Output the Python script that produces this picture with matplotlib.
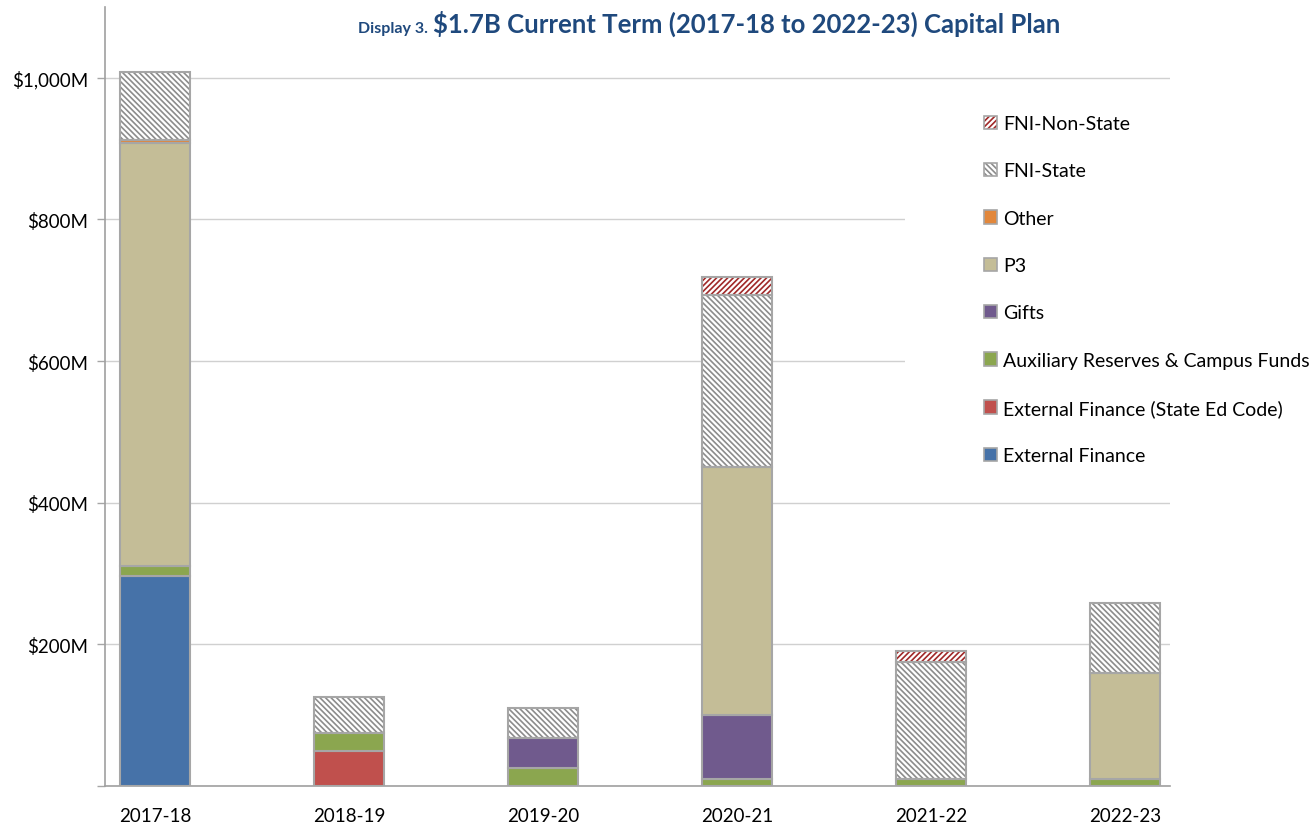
import matplotlib as mp
mp.use('Agg')
import matplotlib.pyplot as plt
from matplotlib.patches import Patch, Rectangle
from matplotlib.ticker import FuncFormatter

# values in $M
years = ['2017-18', '2018-19', '2019-20', '2020-21', '2021-22', '2022-23']
ext_fin = [296, 0, 0, 0, 0, 0]
ext_fin_ed = [0, 49, 0, 0, 0, 0]
aux_funds = [14, 26, 25, 10, 10, 10]
gifts = [0, 0, 43, 90, 0, 0]
p3 = [598, 0, 0, 351, 0, 149]
other = [4, 0, 0, 0, 0, 0]
fni_state = [96, 50, 42, 243, 165, 99]
fni_nonstate = [0, 0, 0, 25, 15, 0]

series = [
    ('External Finance', ext_fin, '#4672A8', None),
    ('External Finance (State Ed Code)', ext_fin_ed, '#C0504D', None),
    ('Auxiliary Reserves & Campus Funds', aux_funds, '#8BA64F', None),
    ('Gifts', gifts, '#705A8D', None),
    ('P3', p3, '#C4BD97', None),
    ('Other', other, '#E2873B', None),
    ('FNI-State', fni_state, '#8C8C8C', '\\' * 6),
    ('FNI-Non-State', fni_nonstate, '#A02828', '/' * 6),
]

plt.rcParams['font.family'] = ['Lato', 'DejaVu Sans']
plt.rcParams['hatch.linewidth'] = 1.2
edge = '#A6A6A6'

fig = plt.figure(figsize=(13.16, 8.28), dpi=100)
ax = fig.add_axes([105 / 1316, 1 - 787 / 828, (1170 - 105) / 1316, (787 - 8) / 828])

x = list(range(len(years)))
w = 0.36
bottom = [0] * len(years)
handles = []
for name, vals, col, hatch in series:
    xs = [x[i] for i in range(len(vals)) if vals[i] > 0]
    hs = [v for v in vals if v > 0]
    bs = [bottom[i] for i in range(len(vals)) if vals[i] > 0]
    if hatch:
        ax.bar(xs, hs, w, bottom=bs, color='white', edgecolor=col, hatch=hatch, linewidth=0, zorder=2)
        ax.bar(xs, hs, w, bottom=bs, fill=False, edgecolor=edge, linewidth=1.5, zorder=3)
        handles.append((Patch(facecolor='white', edgecolor=col, hatch=hatch, linewidth=0),
                        Patch(fill=False, edgecolor=edge, linewidth=1.2)))
    else:
        ax.bar(xs, hs, w, bottom=bs, color=col, edgecolor=edge, linewidth=1.5, zorder=3)
        handles.append(Patch(facecolor=col, edgecolor=edge, linewidth=1.2))
    bottom = [bottom[i] + vals[i] for i in range(len(vals))]

ax.set_xlim(-0.258, 5.232)
ax.set_ylim(0, 1100)
ax.set_xticks(x)
ax.set_xticklabels(years)
ax.set_yticks([0, 200, 400, 600, 800, 1000])
ax.yaxis.set_major_formatter(FuncFormatter(lambda v, p: '' if v == 0 else '${:,.0f}M'.format(v)))
ax.tick_params(axis='x', length=0, pad=15, labelsize=13.5)
ax.tick_params(axis='y', length=6, width=1, color='#A6A6A6', pad=6, labelsize=13.5)
ax.grid(axis='y', color='#D0D0D0', linewidth=1, zorder=0)
ax.set_axisbelow(True)
for s in ['top', 'right']:
    ax.spines[s].set_visible(False)
for s in ['left', 'bottom']:
    ax.spines[s].set_color('#A0A0A0')
    ax.spines[s].set_linewidth(1.2)

# white block behind the legend, hides the grid there
fig.patches.append(Rectangle((905 / 1316, 1 - 485 / 828), 411 / 1316, 385 / 828,
                             transform=fig.transFigure, facecolor='white', edgecolor='none', zorder=1))

names = [s[0] for s in series]
fig.legend(handles[::-1], names[::-1], loc='upper left', bbox_to_anchor=(984 / 1316, 1 - 116 / 828),
           frameon=False, fontsize=14, borderpad=0, borderaxespad=0, labelspacing=1.56,
           handlelength=0.68, handleheight=0.68, handletextpad=0.3)

tc = '#1F497D'
fig.text(428 / 1316, 1 - 33 / 828, 'Display 3.', ha='right', va='baseline', fontsize=11.5,
         fontweight='bold', color=tc)
fig.text(433 / 1316, 1 - 33 / 828, '$1.7B Current Term (2017-18 to 2022-23) Capital Plan', ha='left',
         va='baseline', fontsize=18.5, fontweight='bold', color=tc)

plt.savefig('out.png', dpi=100)
